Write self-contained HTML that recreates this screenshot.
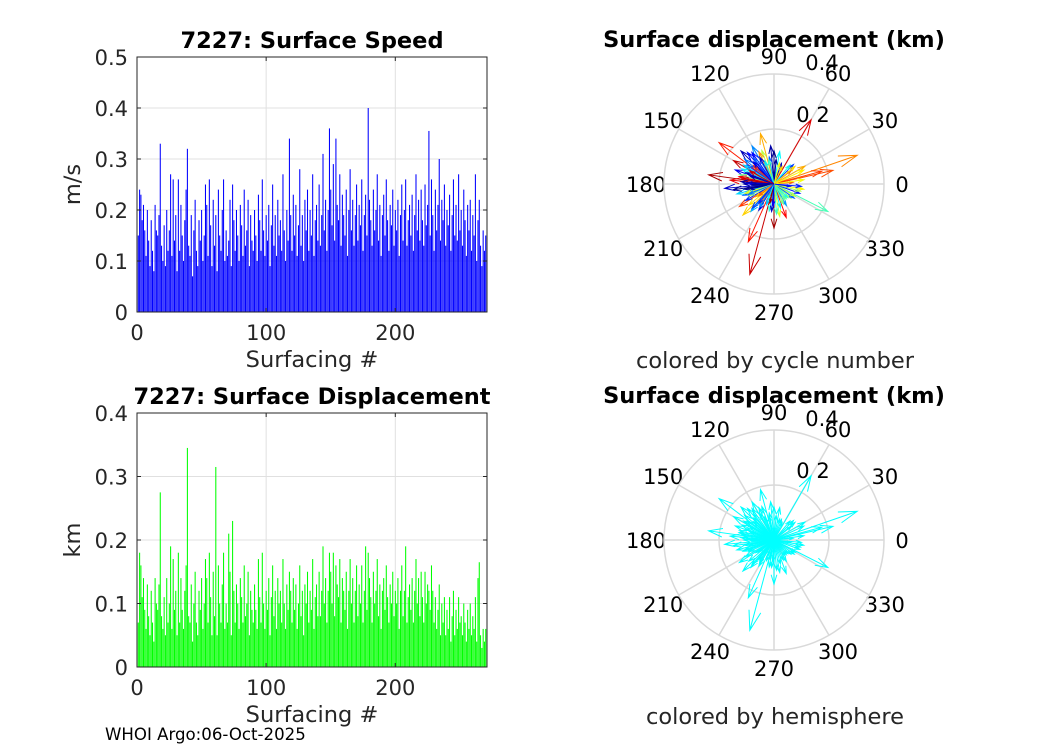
<!DOCTYPE html>
<html><head><meta charset="utf-8"><style>
body{margin:0;background:#fff;width:1050px;height:750px;overflow:hidden}
svg text{font-family:"DejaVu Sans","Liberation Sans",sans-serif}
</style></head><body>
<svg id="fig" width="1050" height="750" viewBox="0 0 1050 750" xmlns="http://www.w3.org/2000/svg">
<rect width="1050" height="750" fill="#fff"/>
<g id="g1"></g>
<g id="g2"></g>
<g id="g3"></g>
<g id="g4"></g>
<text x="105" y="740" font-size="16.6" fill="#000">WHOI Argo:06-Oct-2025</text>
</svg>
<script>
const speedValues=[.15,.24,.23,.18,.21,.16,.11,.20,.14,.09,.18,.12,.08,.21,.16,.15,.19,.33,.13,.10,.17,.09,.20,.12,.16,.27,.11,.26,.14,.19,.08,.26,.12,.21,.15,.10,.18,.24,.32,.13,.11,.19,.07,.16,.22,.12,.09,.18,.14,.20,.10,.15,.25,.21,.11,.26,.17,.09,.22,.13,.19,.08,.24,.15,.12,.20,.26,.10,.16,.11,.14,.22,.09,.25,.18,.12,.20,.15,.10,.21,.17,.11,.24,.13,.16,.22,.09,.19,.14,.12,.20,.15,.10,.23,.18,.12,.26,.16,.11,.19,.14,.21,.09,.17,.25,.13,.19,.11,.22,.15,.18,.12,.27,.16,.10,.20,.14,.34,.19,.12,.23,.15,.21,.11,.17,.28,.13,.19,.10,.22,.16,.24,.12,.20,.15,.27,.11,.18,.21,.14,.25,.13,.19,.31,.16,.22,.12,.20,.36,.24,.17,.29,.14,.34,.21,.18,.27,.13,.23,.19,.15,.24,.11,.20,.28,.16,.22,.13,.19,.25,.14,.21,.17,.26,.12,.19,.23,.15,.40,.22,.18,.13,.24,.16,.20,.27,.14,.21,.11,.19,.23,.15,.26,.18,.12,.21,.17,.24,.13,.20,.16,.22,.11,.19,.25,.14,.20,.26,.13,.18,.21,.15,.23,.12,.19,.27,.16,.22,.14,.24,.18,.13,.25,.17,.21,.355,.15,.26,.19,.12,.24,.16,.21,.30,.14,.22,.18,.25,.13,.20,.17,.23,.12,.19,.26,.15,.21,.14,.27,.16,.20,.13,.24,.18,.11,.21,.16,.22,.12,.19,.15,.27,.10,.18,.22,.13,.09,.16,.12,.15];
const dispValues=[.07,.18,.16,.11,.14,.09,.06,.13,.08,.05,.12,.07,.04,.14,.10,.09,.13,.275,.08,.06,.11,.05,.14,.07,.10,.19,.06,.17,.09,.12,.05,.18,.07,.14,.09,.06,.12,.16,.345,.08,.07,.13,.04,.10,.15,.07,.05,.12,.09,.14,.06,.10,.17,.14,.07,.18,.11,.05,.15,.08,.315,.05,.16,.10,.07,.13,.18,.06,.10,.07,.21,.15,.05,.23,.12,.07,.13,.10,.06,.14,.11,.07,.16,.08,.10,.15,.05,.12,.09,.07,.13,.09,.06,.17,.11,.07,.18,.10,.06,.12,.09,.14,.05,.11,.16,.08,.12,.06,.14,.10,.12,.07,.17,.10,.06,.13,.09,.15,.12,.07,.14,.09,.13,.06,.10,.16,.08,.12,.05,.13,.10,.15,.07,.12,.09,.17,.06,.11,.13,.08,.15,.08,.12,.19,.10,.14,.07,.12,.18,.15,.10,.18,.08,.16,.13,.11,.17,.07,.14,.12,.09,.15,.06,.12,.17,.10,.14,.07,.12,.16,.08,.13,.10,.16,.07,.12,.19,.09,.18,.14,.11,.07,.15,.10,.12,.17,.08,.13,.06,.12,.14,.09,.16,.11,.07,.13,.10,.15,.08,.12,.10,.14,.06,.12,.16,.08,.12,.19,.07,.11,.13,.09,.14,.07,.12,.17,.10,.14,.08,.15,.11,.07,.15,.10,.13,.12,.09,.16,.12,.07,.11,.06,.09,.13,.05,.10,.07,.11,.05,.09,.06,.11,.04,.08,.12,.05,.09,.06,.11,.07,.08,.05,.10,.07,.04,.09,.06,.10,.05,.08,.06,.11,.04,.14,.165,.05,.03,.06,.04,.06];
const barTicksX=[0,100,200];
const speedTicksY=[0,0.1,0.2,0.3,0.4,0.5];
const dispTicksY=[0,0.1,0.2,0.3,0.4];
// polar arrows: direction (deg), magnitude (km), cycle index
const arrowAngles=[19,60,13,333,255,246,270,290,172,143,105,213,225,340,150,160,120,135,185,200,195,175,110,95,80,100,130,165,190,210,230,240,260,280,300,320,350,5,30,45,70,85,140,155,170,180,188,205,220,235,250,265,275,310,325,345,15,25,50,115,125,145,158,168,178,192,198,215,228,238,258,285,295,315,355,8,38,65,90,102,118,128,138,148,162,182,202,218,232,248,268,305,330,352,40,75,112,133,152,176];
const arrowMags=[.32,.27,.22,.22,.34,.23,.16,.13,.24,.25,.19,.15,.16,.10,.17,.15,.16,.17,.18,.12,.14,.16,.13,.14,.12,.10,.15,.13,.11,.12,.13,.11,.10,.12,.09,.08,.11,.07,.13,.10,.08,.09,.14,.13,.12,.11,.15,.10,.12,.09,.08,.10,.11,.07,.09,.10,.18,.12,.09,.13,.14,.12,.11,.13,.10,.09,.11,.08,.12,.10,.07,.09,.08,.07,.10,.11,.08,.07,.12,.09,.11,.12,.10,.13,.09,.08,.10,.07,.09,.06,.08,.07,.09,.06,.10,.08,.09,.11,.10,.12];
const arrowCycles=[200,245,215,120,250,230,260,235,258,228,190,220,180,40,250,30,70,15,20,55,90,240,150,10,100,60,35,130,5,45,80,25,110,160,75,140,170,210,190,50,20,8,65,95,255,12,3,140,175,200,85,18,115,125,60,145,220,170,105,195,35,48,15,240,28,7,160,185,52,72,265,98,135,110,42,165,205,180,2,118,22,58,225,88,14,6,66,208,44,100,32,128,150,38,178,162,94,26,248,11];
const speedTitle="7227: Surface Speed", dispTitle="7227: Surface Displacement";

const NS="http://www.w3.org/2000/svg";
function mk(parent,tag,attrs){const e=document.createElementNS(NS,tag);for(const k in attrs)e.setAttribute(k,attrs[k]);parent.appendChild(e);return e;}
function txt(parent,x,y,s,opts){const t=mk(parent,'text',Object.assign({x:x,y:y,'font-size':21,fill:'#262626','text-anchor':'middle'},opts||{}));t.textContent=s;return t;}

function barChart(g,vals,ticks,ymax,top,bot,color,title,ylab){
  const L=137,R=487,xmax=271;
  const sx=v=>L+(v)*(R-L)/xmax, sy=v=>bot-(v/ymax)*(bot-top);
  for(const t of barTicksX){const l=mk(g,'line',{x1:sx(t),x2:sx(t),y1:top,y2:bot,stroke:'#e0e0e0','stroke-width':1});}
  for(const t of ticks){const l=mk(g,'line',{x1:L,x2:R,y1:sy(t),y2:sy(t),stroke:'#e0e0e0','stroke-width':1});}
  vals.forEach((v,i)=>{const x=sx(i+1)-0.5;const r=mk(g,'rect',{x:x,y:sy(v),width:1.05,height:bot-sy(v),fill:color});
    
    });
  mk(g,'rect',{x:L,y:top,width:R-L,height:bot-top,fill:'none',stroke:'#262626','stroke-width':1});
  for(const t of barTicksX){mk(g,'line',{x1:sx(t),x2:sx(t),y1:bot,y2:bot-4,stroke:'#262626'});mk(g,'line',{x1:sx(t),x2:sx(t),y1:top,y2:top+4,stroke:'#262626'});
    const tl=txt(g,sx(t),bot+28,String(t));}
  for(const t of ticks){mk(g,'line',{x1:L,x2:L+4,y1:sy(t),y2:sy(t),stroke:'#262626'});mk(g,'line',{x1:R,x2:R-4,y1:sy(t),y2:sy(t),stroke:'#262626'});
    const tl=txt(g,L-9,sy(t)+8,String(t),{'text-anchor':'end'});}
  const tt=txt(g,(L+R)/2,top-9,title,{'font-weight':'bold',fill:'#000','font-size':22.5});
  const xl=txt(g,(L+R)/2,bot+55,'Surfacing #',{'font-size':22.5});
  const yx=L-57,yy=(top+bot)/2;const yl=txt(g,yx,yy,ylab,{transform:`rotate(-90 ${yx} ${yy})`,'font-size':22.5});
}
barChart(document.getElementById('g1'),speedValues,speedTicksY,0.5,57,312,'#0000ff',speedTitle,'m/s');
barChart(document.getElementById('g2'),dispValues,dispTicksY,0.4,413,667,'#00ff00',dispTitle,'km');

function jet(t){const f=x=>Math.max(0,Math.min(1,x));const r=f(1.5-Math.abs(4*t-3)),g=f(1.5-Math.abs(4*t-2)),b=f(1.5-Math.abs(4*t-1));return `rgb(${Math.round(r*255)},${Math.round(g*255)},${Math.round(b*255)})`;}
function polar(g,cx,cy,colorFn,sub){
  const R=110,rmax=0.4;
  for(let a=0;a<360;a+=30){const r=a*Math.PI/180;mk(g,'line',{x1:cx,y1:cy,x2:cx+R*Math.cos(r),y2:cy-R*Math.sin(r),stroke:'#d9d9d9','stroke-width':1.5});
    const tl=txt(g,cx+128*Math.cos(r),cy-128*Math.sin(r)+8,String(a),{fill:'#000'});}
  [0.2,0.4].forEach(v=>mk(g,'circle',{cx:cx,cy:cy,r:R*v/rmax,fill:'none',stroke:'#d9d9d9','stroke-width':1.5}));
  const l1=txt(g,cx+39,cy-62,'0 2',{fill:'#000'});
  const l2=txt(g,cx+48,cy-114,'0.4',{fill:'#000'});
  arrowAngles.forEach((a,i)=>{const r=a*Math.PI/180,L=arrowMags[i]*R/rmax;const tx=cx+L*Math.cos(r),ty=cy-L*Math.sin(r);
    const hl=Math.max(4,L*0.22),h1=r+Math.PI-0.3,h2=r+Math.PI+0.3;
    const p=mk(g,'path',{d:`M${cx},${cy}L${tx},${ty}M${tx+hl*Math.cos(h1)},${ty-hl*Math.sin(h1)}L${tx},${ty}L${tx+hl*Math.cos(h2)},${ty-hl*Math.sin(h2)}`,fill:'none',stroke:colorFn(arrowCycles[i]),'stroke-width':1});
    
    });
  const tt=txt(g,cx,cy-137,'Surface displacement (km)',{'font-weight':'bold',fill:'#000','font-size':22.5});
  const st=txt(g,cx+1,cy+184,sub,{'font-size':22.5});
}
polar(document.getElementById('g3'),774,184,c=>jet(c/269),'colored by cycle number');
polar(document.getElementById('g4'),774,540,c=>'#00ffff','colored by hemisphere');
</script>
</body></html>
